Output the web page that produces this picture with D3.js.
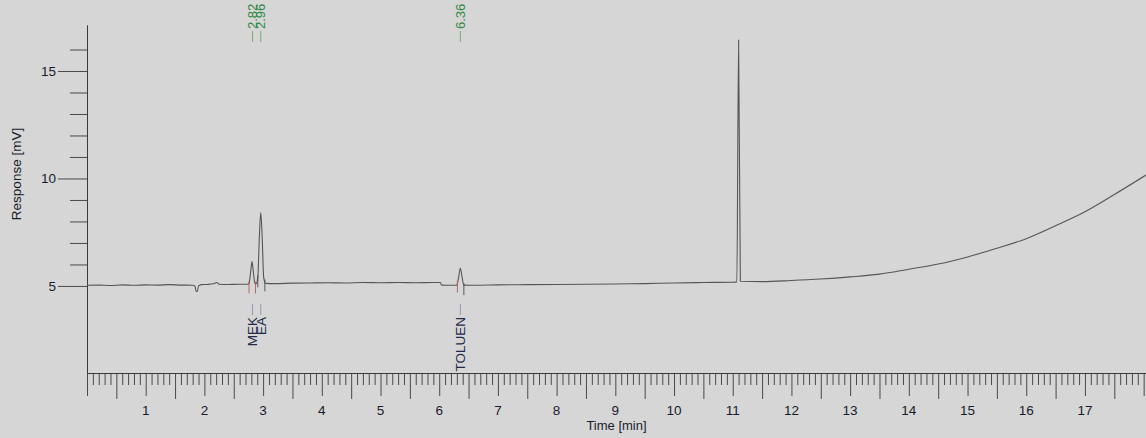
<!DOCTYPE html>
<html>
<head>
<meta charset="utf-8">
<script src="https://cdn.jsdelivr.net/npm/d3@7"></script>
<style>
  html, body { margin: 0; padding: 0; background: #d6d6d6; }
  svg { display: block; font-family: "Liberation Sans", Arial, sans-serif; }
</style>
</head>
<body>
<div id="chart"></div>
<script>
// chart size
const width = 1146;
const height = 438;

// trace: time [min] and response [mV]
const traceTime = [0.00, 0.20, 0.40, 0.60, 0.80, 1.00, 1.20, 1.40, 1.60, 1.80, 1.84, 1.86, 1.88, 1.90, 1.95, 2.05, 2.15, 2.21, 2.25, 2.40, 2.60, 2.74,
  2.76, 2.79, 2.81, 2.83, 2.86, 2.88, 2.91, 2.935, 2.96, 2.985, 3.01, 3.04,
  3.20, 3.50, 3.80, 4.10, 4.40, 4.70, 5.00, 5.30, 5.60, 5.90, 6.02, 6.04, 6.20, 6.30,
  6.33, 6.36, 6.39, 6.42, 6.60, 7.00, 7.50, 8.00, 8.50, 9.00, 9.50, 10.00, 10.50, 11.00,
  11.07, 11.10, 11.13, 11.50, 12.00, 12.50, 13.00, 13.50, 14.00, 14.50, 15.00, 15.50, 16.00, 16.50, 17.00, 17.50, 18.04];
const traceMv = [5.03, 5.04, 5.02, 5.05, 5.03, 5.05, 5.04, 5.06, 5.04, 5.03, 4.98, 4.74, 4.76, 5.00, 5.06, 5.07, 5.10, 5.16, 5.08, 5.07, 5.08, 5.08,
  5.12, 5.70, 6.13, 5.75, 5.12, 5.10, 5.40, 7.20, 8.41, 7.20, 5.40, 5.12,
  5.11, 5.13, 5.14, 5.15, 5.14, 5.16, 5.15, 5.16, 5.15, 5.16, 5.16, 5.04, 5.03, 5.04,
  5.40, 5.82, 5.40, 5.04, 5.03, 5.05, 5.06, 5.07, 5.08, 5.09, 5.11, 5.14, 5.16, 5.17,
  5.19, 16.44, 5.22, 5.20, 5.25, 5.32, 5.42, 5.55, 5.78, 6.02, 6.35, 6.75, 7.20, 7.80, 8.45, 9.25, 10.16];

// identified peaks
const peakTimes = [2.82, 2.96, 6.36];
const peakNames = ["MEK", "EA", "TOLUEN"];
const peakLabels = ["2.82", "2.96", "6.36"];

// integration marks (start = red, end = dark)
const markTimes = [2.76, 2.87, 2.91, 3.03, 6.31, 6.42];
const markKinds = ["start", "start", "end", "end", "start", "end"];

// axis ticks
const yMajorTicks = [5, 10, 15];
const yMinorTicks = [6, 7, 8, 9, 11, 12, 13, 14, 16];
const xLabelTicks = [1, 2, 3, 4, 5, 6, 7, 8, 9, 10, 11, 12, 13, 14, 15, 16, 17];

const x = d3.scaleLinear().domain([0, 18.04]).range([87, 1146]);
const y = d3.scaleLinear().domain([0.95, 17.14]).range([373, 25]);

const svg = d3.select("#chart").append("svg")
    .attr("width", width)
    .attr("height", height);

const axisColor = "#3a3a3a";
const textColor = "#161c2c";

// x axis: 0.1 min ticks, longer at half and whole minutes
const allTenths = d3.range(0, 181).map(i => i / 10);
const minorX = allTenths.filter(t => Math.round(t * 10) % 5 !== 0);
const halfX = allTenths.filter(t => Math.round(t * 10) % 10 === 5);
const wholeX = allTenths.filter(t => Math.round(t * 10) % 10 === 0);

const xg = svg.append("g").attr("transform", `translate(0,${y.range()[0]})`);
const styleAxis = g => {
    g.select(".domain").attr("stroke", axisColor);
    g.selectAll(".tick line").attr("stroke", axisColor).attr("stroke-width", 0.9);
};
xg.append("g").call(d3.axisBottom(x).tickValues(minorX).tickSize(12).tickFormat("").tickSizeOuter(0)).call(styleAxis);
xg.append("g").call(d3.axisBottom(x).tickValues(halfX).tickSize(26).tickFormat("").tickSizeOuter(0)).call(styleAxis);
xg.append("g").call(d3.axisBottom(x).tickValues(wholeX).tickSize(23).tickFormat("").tickSizeOuter(0)).call(styleAxis);

xg.selectAll("text.xlab")
    .data(xLabelTicks)
    .join("text")
    .attr("class", "xlab")
    .attr("x", d => x(d))
    .attr("y", 42)
    .attr("text-anchor", "middle")
    .attr("font-size", 13.5)
    .attr("fill", textColor)
    .text(d => d);

svg.append("text")
    .attr("x", (x.range()[0] + x.range()[1]) / 2)
    .attr("y", 430)
    .attr("text-anchor", "middle")
    .attr("font-size", 13)
    .attr("fill", textColor)
    .text("Time [min]");

// y axis
const yg = svg.append("g").attr("transform", `translate(${x.range()[0]},0)`);
yg.append("g").call(d3.axisLeft(y).tickValues(yMinorTicks).tickSize(17).tickFormat("").tickSizeOuter(0)).call(styleAxis);
yg.append("g").call(d3.axisLeft(y).tickValues(yMajorTicks).tickSize(29).tickFormat("").tickSizeOuter(0)).call(styleAxis);
yg.selectAll("text.ylab")
    .data(yMajorTicks)
    .join("text")
    .attr("class", "ylab")
    .attr("x", -31)
    .attr("y", d => y(d))
    .attr("dy", "0.35em")
    .attr("text-anchor", "end")
    .attr("font-size", 13.5)
    .attr("fill", textColor)
    .text(d => d);

svg.append("text")
    .attr("transform", "translate(21,174) rotate(-90)")
    .attr("text-anchor", "middle")
    .attr("font-size", 13.5)
    .attr("fill", textColor)
    .text("Response [mV]");

// trace
const trace = traceTime.map((t, i) => [t, traceMv[i]]);
const line = d3.line().x(d => x(d[0])).y(d => y(d[1])).curve(d3.curveMonotoneX);
svg.append("path")
    .datum(trace)
    .attr("d", line)
    .attr("fill", "none")
    .attr("stroke", "#555")
    .attr("stroke-width", 1.1);

// integration marks below the trace
const valueAt = t => {
    const i = d3.bisectLeft(traceTime, t);
    const i0 = Math.max(0, i - 1);
    const t0 = traceTime[i0], t1 = traceTime[i];
    const f = t1 === t0 ? 0 : (t - t0) / (t1 - t0);
    return traceMv[i0] + f * (traceMv[i] - traceMv[i0]);
};
svg.selectAll("line.mark")
    .data(markTimes)
    .join("line")
    .attr("class", "mark")
    .attr("x1", d => x(d)).attr("x2", d => x(d))
    .attr("y1", d => y(valueAt(d)) - 2)
    .attr("y2", d => y(valueAt(d)) + 10)
    .attr("stroke", (d, i) => markKinds[i] === "start" ? "#b45a5a" : "#4a4a4a")
    .attr("stroke-width", 0.9);

// peak names below the baseline
const names = svg.selectAll("g.name")
    .data(peakTimes)
    .join("g")
    .attr("class", "name");
names.append("line")
    .attr("x1", d => x(d)).attr("x2", d => x(d))
    .attr("y1", 304).attr("y2", 315)
    .attr("stroke", "#8c94a8")
    .attr("stroke-width", 0.9);
names.append("text")
    .attr("transform", d => `translate(${x(d)},317) rotate(-90)`)
    .attr("dy", "0.36em")
    .attr("text-anchor", "end")
    .attr("font-size", 13.5)
    .attr("fill", "#1f2a4a")
    .text((d, i) => peakNames[i]);

// retention times at the top
const rts = svg.selectAll("g.rt")
    .data(peakTimes)
    .join("g")
    .attr("class", "rt");
rts.append("line")
    .attr("x1", d => x(d)).attr("x2", d => x(d))
    .attr("y1", 31).attr("y2", 42)
    .attr("stroke", "#6aa872")
    .attr("stroke-width", 0.9);
rts.append("text")
    .attr("transform", d => `translate(${x(d)},29) rotate(-90)`)
    .attr("dy", "0.36em")
    .attr("text-anchor", "start")
    .attr("font-size", 13)
    .attr("fill", "#2d8a3e")
    .text((d, i) => peakLabels[i]);
</script>
</body>
</html>
